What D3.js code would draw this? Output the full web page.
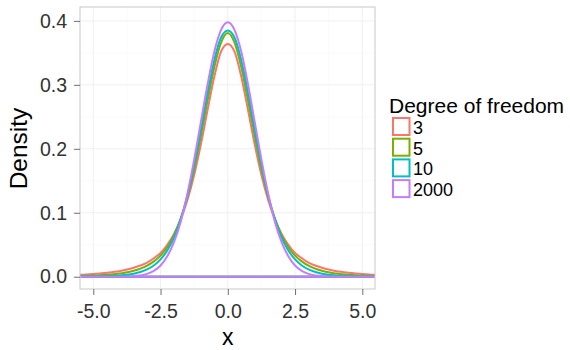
<!DOCTYPE html>
<html><head><meta charset="utf-8">
<script src="https://cdn.jsdelivr.net/npm/d3@7/dist/d3.min.js"></script>
<style>body{margin:0;background:#fff}svg{display:block}text{font-family:"Liberation Sans",Arial,Helvetica,sans-serif}</style>
</head><body><svg id="c" width="570" height="350"></svg>
<script>
// x grid (half side, mirrored)
const xHalf = [0,0.25,0.5,0.75,1,1.25,1.5,1.75,2,2.25,2.5,2.75,3,3.25,3.5,3.75,4,4.25,4.5,4.75,5,5.25,5.5];
const df3 = [0.364,0.352,0.313,0.261,0.207,0.159,0.120,0.090,0.067,0.050,0.037,0.029,0.022,0.0175,0.0140,0.0112,0.0091,0.0075,0.0061,0.0051,0.0042,0.0035,0.0030];
const df5 = [0.381,0.366,0.328,0.276,0.220,0.168,0.125,0.091,0.065,0.046,0.033,0.024,0.0173,0.0126,0.0092,0.0069,0.0051,0.0039,0.0030,0.0023,0.0018,0.0014,0.0011];
const df10 = [0.385,0.374,0.339,0.288,0.230,0.175,0.127,0.090,0.061,0.041,0.027,0.0176,0.0114,0.0074,0.0048,0.0031,0.0020,0.0013,0.0009,0.0006,0.0004,0.0003,0.0002];
const df2000 = [0.398,0.386,0.352,0.301,0.242,0.183,0.130,0.086,0.054,0.032,0.0175,0.0091,0.0044,0.0020,0.0009,0.0004,0.0001,0,0,0,0,0,0];
const seriesNames = ["3","5","10","2000"];
const seriesVals = [df3, df5, df10, df2000];
const colors = ["#F8766D","#7CAE00","#00BFC4","#C77CFF"];
const xTicks = [-5,-2.5,0,2.5,5];
const yTicks = [0,0.1,0.2,0.3,0.4];

const svg = d3.select("#c");
const L=80,R=375,T=7,B=289;
const x = d3.scaleLinear().domain([-5.494,5.472]).range([L,R]);
const y = d3.scaleLinear().domain([-0.0192,0.4217]).range([B,T]);

// grid
const g = svg.append("g");
const xMinor = [-3.75,-1.25,1.25,3.75];
const yMinor = [0.05,0.15,0.25,0.35];
g.selectAll(".xm").data(xMinor).enter().append("line").attr("x1",d=>x(d)).attr("x2",d=>x(d)).attr("y1",T).attr("y2",B).attr("stroke","#f7f7f7").attr("stroke-width",0.6);
g.selectAll(".ym").data(yMinor).enter().append("line").attr("y1",d=>y(d)).attr("y2",d=>y(d)).attr("x1",L).attr("x2",R).attr("stroke","#f7f7f7").attr("stroke-width",0.6);
g.selectAll(".xM").data(xTicks).enter().append("line").attr("x1",d=>x(d)).attr("x2",d=>x(d)).attr("y1",T).attr("y2",B).attr("stroke","#f0f0f0").attr("stroke-width",1);
g.selectAll(".yM").data(yTicks).enter().append("line").attr("y1",d=>y(d)).attr("y2",d=>y(d)).attr("x1",L).attr("x2",R).attr("stroke","#f0f0f0").attr("stroke-width",1);

svg.append("clipPath").attr("id","clip").append("rect").attr("x",L).attr("y",T).attr("width",R-L).attr("height",B-T);

const line = d3.line().x(d=>x(d[0])).y(d=>y(d[1])).curve(d3.curveMonotoneX);
const plot = svg.append("g").attr("clip-path","url(#clip)");
seriesVals.forEach((vals,i)=>{
  const pts = [];
  for(let k=xHalf.length-1;k>0;k--) pts.push([-xHalf[k],vals[k]]);
  for(let k=0;k<xHalf.length;k++) pts.push([xHalf[k],vals[k]]);
  const d = line(pts) + "L" + x(5.5) + "," + y(0) + "L" + x(-5.5) + "," + y(0) + "Z";
  plot.append("path").attr("d",d).attr("fill","none").attr("stroke",colors[i]).attr("stroke-width",2).attr("stroke-linejoin","round");
});

// panel border
svg.append("rect").attr("x",L).attr("y",T).attr("width",R-L).attr("height",B-T).attr("fill","none").attr("stroke","#c8c8c8").attr("stroke-width",1);

// axes
const xa = svg.append("g").attr("transform",`translate(0,${B})`).call(d3.axisBottom(x).tickValues(xTicks).tickFormat(d3.format(".1f")).tickSize(6).tickPadding(9));
const ya = svg.append("g").attr("transform",`translate(${L},0)`).call(d3.axisLeft(y).tickValues(yTicks).tickFormat(d3.format(".1f")).tickSize(6).tickPadding(7));
[xa,ya].forEach(a=>{
  a.select(".domain").remove();
  a.selectAll(".tick line").attr("stroke","#6e6e6e").attr("stroke-width",1);
  a.selectAll(".tick text").attr("fill","#333").style("font-size","19.5px");
});
xa.selectAll(".tick text").text(d=>d3.format(".1f")(d).replace("−","-"));

svg.append("text").attr("x",x(0)).attr("y",345).attr("text-anchor","middle").style("font-size","23px").attr("fill","#000").text("x");
svg.append("text").attr("transform","translate(27,148.5) rotate(-90)").attr("text-anchor","middle").style("font-size","24.5px").attr("fill","#000").text("Density");

// legend
const lg = svg.append("g");
lg.append("text").attr("x",389).attr("y",113).style("font-size","21px").attr("fill","#000").text("Degree of freedom");
seriesNames.forEach((n,i)=>{
  const yy = 118 + i*20.7;
  lg.append("rect").attr("x",393).attr("y",yy).attr("width",16.5).attr("height",17).attr("fill","#fff").attr("stroke",colors[i]).attr("stroke-width",2);
  lg.append("text").attr("x",413).attr("y",yy+16).style("font-size","18px").attr("fill","#000").text(n);
});
</script></body></html>
